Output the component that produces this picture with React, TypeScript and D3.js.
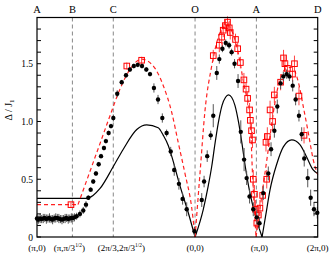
import React from 'react';
import * as d3 from 'd3';

const W = 333;
const H = 257;
const margin = { left: 37, right: 15.3, top: 17.5, bottom: 20 };

// high-symmetry path A -> B -> C -> O -> A -> D (lengths along the cut)
const kSym = [0, Math.PI / Math.sqrt(3), Math.PI / Math.sqrt(3) + (2 * Math.PI) / 3,
  Math.PI / Math.sqrt(3) + 2 * Math.PI, Math.PI / Math.sqrt(3) + 3 * Math.PI,
  Math.PI / Math.sqrt(3) + 4 * Math.PI];
const topLabels = ['A', 'B', 'C', 'O', 'A', 'D'];
const bottomLabels = ['(π,0)', '(π,π/3^)', '(2π/3,2π/3^)', '(0,0)', '(π,0)', '(2π,0)'];
const yTickLabels = ['0', '0.5', '1.0', '1.5'];

// solid black curve, split at its kinks/zeros
const solidSegs: [number, number][][] = [
  [[0, 0.335], [2.61, 0.335]],
  [[2.61, 0.335], [2.87, 0.36], [3.23, 0.42], [3.91, 0.61], [4.42, 0.76], [5.11, 0.93], [5.62, 0.97],
    [6.21, 0.945], [6.47, 0.88], [6.73, 0.79], [6.9, 0.7], [7.33, 0.44], [7.75, 0.21], [8.097, 0]],
  [[8.097, 0], [8.52, 0.24], [8.77, 0.44], [8.95, 0.61], [9.12, 0.81], [9.29, 0.99], [9.48, 1.14],
    [9.66, 1.21], [9.81, 1.23], [9.97, 1.21], [10.14, 1.14], [10.33, 0.99], [10.5, 0.81], [10.67, 0.61],
    [10.84, 0.44], [11.1, 0.24], [11.53, 0]],
  [[11.53, 0], [11.71, 0.18], [11.94, 0.41], [12.28, 0.63], [12.62, 0.78], [13.05, 0.84], [13.47, 0.8],
    [13.82, 0.69], [14.15, 0.58], [14.38, 0.55]],
];

// red dashed curve
const dashedSegs: [number, number][][] = [
  [[0, 0.28], [2.1, 0.28]],
  [[2.1, 0.28], [3.23, 0.81], [3.74, 1.05], [4.25, 1.28], [4.76, 1.45], [5.36, 1.54], [5.96, 1.48],
    [6.47, 1.31], [6.9, 1.08], [7.22, 0.83], [7.58, 0.55], [7.92, 0.26], [8.097, 0]],
  [[8.097, 0], [8.35, 0.55], [8.61, 1.1], [8.95, 1.48], [9.27, 1.72], [9.58, 1.82], [9.78, 1.83],
    [10.04, 1.76], [10.3, 1.6], [10.6, 1.32], [10.91, 1.05], [11.04, 0.55], [11.22, 0]],
  [[11.22, 0], [11.51, 0.35], [11.85, 0.76], [12.11, 1.08], [12.36, 1.31], [12.7, 1.45], [13.05, 1.47],
    [13.39, 1.34], [13.64, 1.13], [13.9, 0.9], [14.15, 0.67], [14.38, 0.54]],
];

// black dots [k, gap, error]
const blackDots: [number, number, number][] = [
  [0.0, 0.16, 0.035], [0.08, 0.15, 0.035], [0.16, 0.16, 0.04], [0.24, 0.155, 0.035], [0.32, 0.16, 0.04],
  [0.4, 0.165, 0.035], [0.48, 0.155, 0.04], [0.56, 0.16, 0.035], [0.64, 0.165, 0.04], [0.72, 0.155, 0.035],
  [0.8, 0.15, 0.04], [0.88, 0.16, 0.035], [0.96, 0.165, 0.04], [1.04, 0.165, 0.035], [1.12, 0.16, 0.04],
  [1.2, 0.155, 0.035], [1.28, 0.15, 0.04], [1.36, 0.155, 0.035], [1.44, 0.16, 0.04], [1.52, 0.165, 0.035],
  [1.6, 0.155, 0.04], [1.68, 0.16, 0.035], [1.76, 0.165, 0.04], [1.84, 0.165, 0.035], [1.92, 0.17, 0.035],
  [2.03, 0.18, 0.03], [2.2, 0.2, 0.03], [2.37, 0.23, 0.03], [2.51, 0.28, 0.03], [2.63, 0.34, 0.02],
  [2.75, 0.41, 0.02], [2.88, 0.48, 0.02], [3.02, 0.55, 0.02], [3.16, 0.63, 0.02], [3.28, 0.7, 0.02],
  [3.43, 0.77, 0.02], [3.53, 0.83, 0.02], [3.67, 0.9, 0.02], [3.79, 0.96, 0.02], [3.91, 1.03, 0.03],
  [4.11, 1.24, 0.03], [4.34, 1.34, 0.02], [4.56, 1.4, 0.02], [4.76, 1.45, 0.02], [4.96, 1.48, 0.02],
  [5.16, 1.49, 0.02], [5.38, 1.48, 0.02], [5.6, 1.45, 0.02], [5.79, 1.41, 0.02], [5.99, 1.29, 0.04],
  [6.2, 1.19, 0.04], [6.42, 1.03, 0.04], [6.64, 0.9, 0.03], [6.85, 0.74, 0.04], [7.03, 0.58, 0.05],
  [7.27, 0.46, 0.05], [7.46, 0.33, 0.05], [7.67, 0.24, 0.06], [8.07, 0.05, 0.04],
  [8.44, 0.32, 0.06], [8.56, 0.48, 0.05], [8.72, 0.7, 0.05], [8.9, 0.88, 0.04], [9.03, 1.05, 0.1],
  [9.21, 1.42, 0.06], [9.34, 1.54, 0.04], [9.5, 1.63, 0.03], [9.67, 1.68, 0.03], [9.84, 1.66, 0.03],
  [9.97, 1.6, 0.03], [10.12, 1.5, 0.04], [10.3, 1.35, 0.06], [10.44, 0.91, 0.1], [10.61, 0.67, 0.1],
  [10.74, 0.51, 0.06], [10.89, 0.35, 0.06], [11.08, 0.24, 0.06], [11.26, 0.17, 0.06],
  [11.4, 0.12, 0.05], [11.59, 0.38, 0.06], [11.85, 0.55, 0.06], [11.99, 0.76, 0.06], [12.16, 0.92, 0.06],
  [12.31, 1.13, 0.06], [12.48, 1.33, 0.05], [12.62, 1.39, 0.04], [12.79, 1.41, 0.04], [12.93, 1.39, 0.04],
  [13.1, 1.31, 0.05], [13.25, 1.19, 0.05], [13.42, 1.05, 0.05], [13.56, 0.89, 0.06], [13.69, 0.68, 0.07],
  [13.87, 0.51, 0.08], [14.02, 0.34, 0.07], [14.19, 0.24, 0.06], [14.36, 0.21, 0.05],
];

// red open squares [k, gap, error]
const redSquares: [number, number, number][] = [
  [1.74, 0.28, 0.02], [4.6, 1.48, 0.03], [5.36, 1.53, 0.03],
  [9.03, 1.57, 0.05], [9.34, 1.66, 0.06], [9.46, 1.73, 0.06], [9.54, 1.79, 0.06], [9.65, 1.83, 0.05],
  [9.76, 1.86, 0.05], [9.85, 1.81, 0.06], [9.9, 1.77, 0.06], [10.17, 1.71, 0.05], [10.28, 1.63, 0.05],
  [10.42, 1.51, 0.05], [10.6, 1.36, 0.06], [10.71, 1.28, 0.06], [10.79, 1.2, 0.06], [10.89, 1.1, 0.06],
  [10.93, 1.01, 0.06], [10.99, 0.92, 0.07], [11.04, 0.84, 0.07], [11.08, 0.5, 0.08], [11.14, 0.37, 0.08],
  [11.19, 0.24, 0.08], [11.26, 0.12, 0.06],
  [11.34, 0.19, 0.07], [11.42, 0.25, 0.07], [11.56, 0.36, 0.08], [11.77, 0.5, 0.08], [11.73, 0.82, 0.08],
  [11.8, 0.87, 0.08], [11.94, 1.1, 0.08], [12.07, 1.0, 0.08], [12.16, 1.23, 0.07], [12.48, 1.34, 0.07],
  [12.63, 1.55, 0.07], [12.7, 1.5, 0.07], [12.83, 1.46, 0.07], [13.09, 1.41, 0.07], [13.19, 1.5, 0.07],
  [13.42, 1.22, 0.08], [13.68, 0.88, 0.07],
];

const serif = '"Liberation Serif", "DejaVu Serif", serif';

function Label({ text, x, y, size }: { text: string; x: number; y: number; size: number }) {
  const parts = text.split('^');
  return (
    <text x={x} y={y} fontSize={size} textAnchor="middle" fontFamily={serif}>
      {parts[0]}
      {parts.length > 1 && (
        <>
          <tspan fontSize={size * 0.6} dy={-size * 0.4}>1/2</tspan>
          <tspan dy={size * 0.4}>{parts[1]}</tspan>
        </>
      )}
    </text>
  );
}

export default function App() {
  const x = d3.scaleLinear().domain([0, kSym[5]]).range([margin.left, W - margin.right]);
  const y = d3.scaleLinear().domain([0, 1.9]).range([H - margin.bottom, margin.top]);
  const x0 = x.range()[0], x1 = x.range()[1];
  const y0 = y.range()[0], y1 = y.range()[1];

  const line = (seg: [number, number][]) =>
    d3.line<[number, number]>()
      .x(d => x(d[0]))
      .y(d => y(d[1]))
      .curve(seg.length > 2 ? d3.curveMonotoneX : d3.curveLinear)(seg) || '';

  const minorTicks = d3.range(0, 1.91, 0.1);
  const labelShift = [0, -3, 8, 0, 3, 0];

  return (
    <svg width={W} height={H} style={{ position: 'absolute', left: 0, top: 0, background: '#fff' }}>
      {/* vertical dashed guides */}
      {kSym.slice(1, 5).map((k, i) => (
        <line key={'v' + i} x1={x(k)} x2={x(k)} y1={y1} y2={y0} stroke="#888" strokeWidth={1}
          strokeDasharray="4,3" />
      ))}

      {/* theory curves */}
      {solidSegs.map((s, i) => (
        <path key={'s' + i} d={line(s)} fill="none" stroke="#000" strokeWidth={1.2} />
      ))}
      {dashedSegs.map((s, i) => (
        <path key={'d' + i} d={line(s)} fill="none" stroke="#f22" strokeWidth={1.2} strokeDasharray="4,3" />
      ))}

      {/* red squares */}
      {redSquares.map((d, i) => (
        <g key={'r' + i}>
          <line x1={x(d[0])} x2={x(d[0])} y1={y(d[1] - d[2])} y2={y(d[1] + d[2])} stroke="#f44" strokeWidth={1} />
          <rect x={x(d[0]) - 2.8} y={y(d[1]) - 2.8} width={5.6} height={5.6} fill="none" stroke="#f00"
            strokeWidth={1} />
        </g>
      ))}

      {/* black dots */}
      {blackDots.map((d, i) => (
        <g key={'b' + i}>
          <line x1={x(d[0])} x2={x(d[0])} y1={y(d[1] - d[2])} y2={y(d[1] + d[2])} stroke="#555" strokeWidth={1} />
          <circle cx={x(d[0])} cy={y(d[1])} r={2.2} fill="#000" />
        </g>
      ))}

      {/* frame and ticks */}
      <rect x={x0} y={y1} width={x1 - x0} height={y0 - y1} fill="none" stroke="#000" strokeWidth={1.2} />
      {minorTicks.map((t, i) => (
        <g key={'t' + i}>
          <line x1={x0} x2={x0 + 4} y1={y(t)} y2={y(t)} stroke="#000" strokeWidth={1} />
          <line x1={x1} x2={x1 - 4} y1={y(t)} y2={y(t)} stroke="#000" strokeWidth={1} />
        </g>
      ))}
      {yTickLabels.map((t, i) => (
        <text key={'yl' + i} x={x0 - 4} y={y(+t) + 3.5} fontSize={9.5} textAnchor="end" fontFamily={serif}>
          {t}
        </text>
      ))}

      {kSym.map((k, i) => (
        <text key={'top' + i} x={x(k)} y={13} fontSize={10.5} textAnchor="middle" fontFamily={serif}>
          {topLabels[i]}
        </text>
      ))}
      {kSym.map((k, i) => (
        <Label key={'bot' + i} text={bottomLabels[i]} x={x(k) + labelShift[i]} y={251} size={9} />
      ))}

      <text transform={`translate(12,${y(1.1)}) rotate(-90)`} fontSize={10} textAnchor="middle" fontFamily={serif}>
        Δ / J<tspan fontSize={7} dy={2}>1</tspan>
      </text>
    </svg>
  );
}
